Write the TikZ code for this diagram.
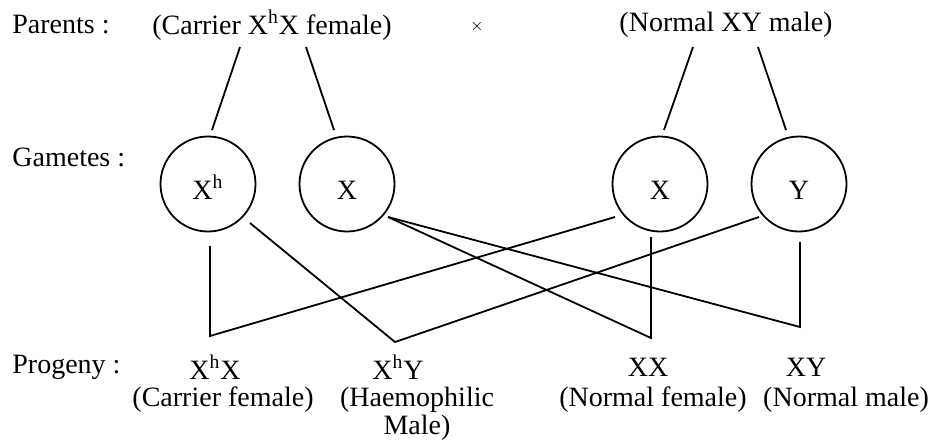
\documentclass[tikz,border=0pt]{standalone}
\usepackage{fontspec}
\setmainfont{Liberation Serif}
\usetikzlibrary{calc, positioning}

\begin{document}
\begin{tikzpicture}[x=0.5pt, y=-0.5pt, font=\fontsize{14}{14}\selectfont,
    gamete/.style={draw, circle, line width=0.9pt, minimum size=47.5pt, inner sep=0pt,
        text height=15pt, text depth=0pt},
    link/.style={line width=0.9pt, line join=miter},
    rowtitle/.style={anchor=west, inner sep=0pt}]
    \useasboundingbox (0,0) rectangle (935,446);

    % Row titles
    \node[rowtitle] (tpar) at (12,25) {Parents :};
    \node[rowtitle] (tgam) at (12,157) {Gametes :};
    \node[rowtitle] (tpro) at (12,367) {Progeny :};

    % Parents
    \node (fem) at (272,25) {(Carrier X\textsuperscript{h}X female)};
    \node (cross) at (477,26) {\footnotesize$\times$};
    \node (mal) at (726,25) {(Normal XY male)};

    % Gametes
    \node[gamete] (gXh) at (208,184) {X\textsuperscript{h}};
    \node[gamete] (gXf) at (347,184) {X};
    \node[gamete] (gXm) at (660,184) {X};
    \node[gamete] (gY) at (799,184) {Y};

    % Progeny
    \node (pXhX) at (215,367) {X\textsuperscript{h}X};
    \node (nXhX) at (223,400) {(Carrier female)};
    \node (pXhY) at (398,367) {X\textsuperscript{h}Y};
    \node[align=center] (nXhY) at (417,414) {(Haemophilic\\Male)};
    \node (pXX) at (648,367) {XX};
    \node (nXX) at (653,400) {(Normal female)};
    \node (pXY) at (806,367) {XY};
    \node (nXY) at (846,400) {(Normal male)};

    % Meeting points above the progeny
    \coordinate (vXhX) at (210,336);
    \coordinate (vXhY) at (395,342);
    \coordinate (vXX) at (651,338);
    \coordinate (vXY) at (800,327);

    % Parents to gametes
    \draw[link] ($(fem)+(-32,22)$) -- ($(gXh)+(4,-54)$);
    \draw[link] ($(fem)+(34,22)$) -- ($(gXf)+(-13,-54)$);
    \draw[link] ($(mal)+(-33,22)$) -- ($(gXm)+(4,-54)$);
    \draw[link] ($(mal)+(32,22)$) -- ($(gY)+(-13,-54)$);

    % Gametes to progeny
    \draw[link] ($(gXh)+(2,62)$) -- (vXhX) -- ($(gXm)+(-45,33)$);
    \draw[link] ($(gXh)+(42,39)$) -- (vXhY) -- ($(gY)+(-40,33)$);
    \draw[link] ($(gXf)+(41,33)$) -- (vXX) -- ($(gXm)+(-9,53)$);
    \draw[link] ($(gXf)+(41,33)$) -- (vXY) -- ($(gY)+(1,58)$);
\end{tikzpicture}
\end{document}
